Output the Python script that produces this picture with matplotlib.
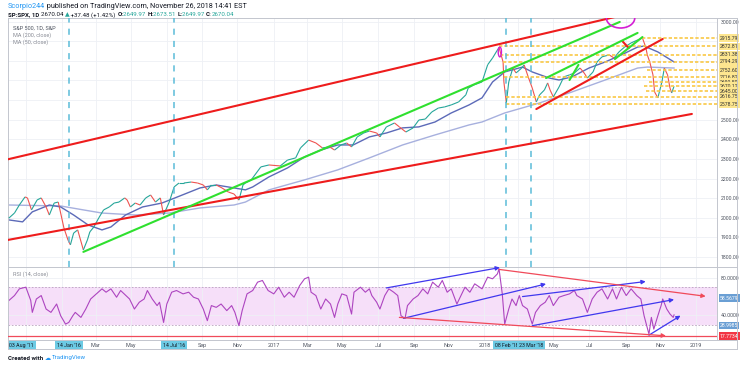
import numpy as np
import matplotlib
matplotlib.use("Agg")
import matplotlib.pyplot as plt
from matplotlib.collections import LineCollection
from matplotlib.lines import Line2D
from matplotlib.patches import Ellipse

plt.rcParams['font.family'] = ['Roboto', 'DejaVu Sans']

W, H = 751, 370
BASE = np.datetime64('2015-10-01')
END = np.datetime64('2019-02-07')

price_dates = ['2015-10-02', '2015-10-13', '2015-10-21', '2015-10-30', '2015-11-04', '2015-11-11',
               '2015-11-20', '2015-11-27', '2015-12-07', '2015-12-11', '2015-12-21', '2015-12-28',
               '2016-01-06', '2016-01-13', '2016-01-18', '2016-01-22', '2016-01-29', '2016-02-09',
               '2016-02-16', '2016-02-19', '2016-02-26', '2016-03-07', '2016-03-15', '2016-03-24',
               '2016-04-01', '2016-04-11', '2016-04-20', '2016-04-25', '2016-04-29', '2016-05-09',
               '2016-05-17', '2016-05-26', '2016-06-03', '2016-06-13', '2016-06-21', '2016-06-27',
               '2016-07-06', '2016-07-14', '2016-07-22', '2016-08-01', '2016-08-12', '2016-08-24',
               '2016-09-02', '2016-09-09', '2016-09-16', '2016-09-26', '2016-10-05', '2016-10-17',
               '2016-10-26', '2016-11-03', '2016-11-10', '2016-11-15', '2016-11-24', '2016-12-12',
               '2016-12-26', '2017-01-13', '2017-01-26', '2017-02-09', '2017-02-17', '2017-03-03',
               '2017-03-16', '2017-03-28', '2017-04-10', '2017-04-18', '2017-04-28', '2017-05-09',
               '2017-05-17', '2017-05-26', '2017-06-07', '2017-06-16', '2017-06-29', '2017-07-05',
               '2017-07-17', '2017-07-31', '2017-08-08', '2017-08-18', '2017-08-31', '2017-09-11',
               '2017-09-21', '2017-10-03', '2017-10-13', '2017-10-25', '2017-11-06', '2017-11-17',
               '2017-11-30', '2017-12-05', '2017-12-14', '2017-12-28', '2018-01-08', '2018-01-16',
               '2018-01-24', '2018-01-26', '2018-02-02', '2018-02-05', '2018-02-08', '2018-02-13',
               '2018-02-20', '2018-02-26', '2018-03-07', '2018-03-12', '2018-03-19', '2018-03-26',
               '2018-04-02', '2018-04-06', '2018-04-16', '2018-04-20', '2018-04-25', '2018-05-01',
               '2018-05-10', '2018-05-18', '2018-05-29', '2018-06-06', '2018-06-15', '2018-06-22',
               '2018-06-28', '2018-07-09', '2018-07-16', '2018-07-24', '2018-08-06', '2018-08-14',
               '2018-08-22', '2018-08-31', '2018-09-12', '2018-09-24', '2018-10-02', '2018-10-08',
               '2018-10-10', '2018-10-15', '2018-10-19', '2018-10-23', '2018-10-29', '2018-11-05',
               '2018-11-08', '2018-11-14', '2018-11-19', '2018-11-21', '2018-11-26']
price_close = [1998, 2024, 2065, 2106, 2101, 2040,
               2091, 2101, 2055, 2014, 2075, 2080,
               1948, 1887, 1862, 1922, 1938, 1836,
               1887, 1928, 1953, 1999, 2040, 2055,
               2075, 2080, 2101, 2091, 2055, 2075,
               2065, 2101, 2116, 2080, 2101, 2014,
               2080, 2157, 2177, 2177, 2182, 2177,
               2167, 2142, 2167, 2167, 2152, 2131,
               2121, 2090, 2167, 2177, 2192, 2259,
               2269, 2264, 2294, 2305, 2356, 2396,
               2381, 2356, 2361, 2345, 2371, 2381,
               2361, 2412, 2432, 2442, 2432, 2412,
               2463, 2483, 2463, 2437, 2458, 2498,
               2503, 2539, 2559, 2565, 2575, 2590,
               2626, 2661, 2677, 2692, 2780, 2814,
               2855, 2868, 2794, 2692, 2585, 2692,
               2763, 2738, 2763, 2779, 2718, 2661,
               2590, 2626, 2651, 2687, 2651, 2616,
               2666, 2718, 2728, 2738, 2763, 2738,
               2712, 2743, 2794, 2820, 2830, 2814,
               2845, 2870, 2891, 2906, 2916, 2870,
               2830, 2794, 2728, 2641, 2611, 2692,
               2763, 2728, 2661, 2636, 2670]

ma200_dates = ['2015-10-02', '2015-12-31', '2016-02-09', '2016-03-11', '2016-05-09', '2016-07-06',
               '2016-08-29', '2016-10-26', '2016-11-15', '2016-12-26', '2017-02-24', '2017-04-24',
               '2017-06-16', '2017-08-14', '2017-10-09', '2017-12-06', '2017-12-28', '2018-02-06',
               '2018-04-06', '2018-06-01', '2018-07-30', '2018-09-24', '2018-10-10', '2018-11-26']
ma200_vals = [2065, 2060, 2040, 2024, 2014, 2024,
              2050, 2065, 2080, 2142, 2193, 2244,
              2305, 2371, 2422, 2473, 2488, 2534,
              2585, 2641, 2702, 2763, 2768, 2763]

ma50_dates = ['2015-10-02', '2015-10-27', '2015-11-12', '2015-12-11', '2015-12-31', '2016-01-22',
              '2016-02-17', '2016-03-11', '2016-03-28', '2016-04-21', '2016-05-20', '2016-06-23',
              '2016-07-15', '2016-08-29', '2016-09-26', '2016-10-26', '2016-11-15', '2016-11-28',
              '2016-12-26', '2017-01-26', '2017-02-24', '2017-03-24', '2017-04-24', '2017-05-19',
              '2017-06-16', '2017-07-17', '2017-08-14', '2017-09-11', '2017-10-09', '2017-11-06',
              '2017-12-06', '2017-12-28', '2018-01-16', '2018-02-06', '2018-03-08', '2018-03-26',
              '2018-04-24', '2018-05-10', '2018-06-01', '2018-07-02', '2018-07-30', '2018-08-27',
              '2018-09-24', '2018-10-04', '2018-10-29', '2018-11-26']
ma50_vals = [1989, 1979, 2030, 2065, 2055, 2014,
             1963, 1938, 1953, 2014, 2055, 2075,
             2101, 2152, 2167, 2152, 2142, 2157,
             2208, 2254, 2310, 2345, 2371, 2371,
             2412, 2432, 2458, 2463, 2488, 2534,
             2575, 2611, 2692, 2743, 2768, 2743,
             2712, 2702, 2718, 2763, 2794, 2830,
             2870, 2875, 2845, 2794]

# ---- RSI (14, close) ----
rsi_dates = ['2015-10-02', '2015-10-13', '2015-10-21', '2015-11-02', '2015-11-10', '2015-11-12',
             '2015-11-19', '2015-11-27', '2015-12-07', '2015-12-15', '2015-12-24', '2015-12-31',
             '2016-01-08', '2016-01-14', '2016-01-21', '2016-01-26', '2016-02-04', '2016-02-12',
             '2016-02-22', '2016-03-02', '2016-03-11', '2016-03-18', '2016-03-28', '2016-04-06',
             '2016-04-13', '2016-04-28', '2016-05-06', '2016-05-16', '2016-05-24', '2016-05-30',
             '2016-06-07', '2016-06-15', '2016-06-20', '2016-06-27', '2016-07-01', '2016-07-11',
             '2016-07-19', '2016-07-29', '2016-08-09', '2016-08-17', '2016-08-25', '2016-09-02',
             '2016-09-09', '2016-09-16', '2016-09-26', '2016-10-04', '2016-10-13', '2016-10-21',
             '2016-10-27', '2016-11-03', '2016-11-09', '2016-11-17', '2016-11-28', '2016-12-06',
             '2016-12-14', '2016-12-23', '2017-01-03', '2017-01-11', '2017-01-20', '2017-01-30',
             '2017-02-07', '2017-02-16', '2017-02-24', '2017-03-03', '2017-03-08', '2017-03-16',
             '2017-03-24', '2017-04-03', '2017-04-11', '2017-04-18', '2017-04-24', '2017-05-01',
             '2017-05-09', '2017-05-17', '2017-05-22', '2017-06-01', '2017-06-09', '2017-06-16',
             '2017-06-21', '2017-06-29', '2017-07-05', '2017-07-13', '2017-07-20', '2017-07-28',
             '2017-08-04', '2017-08-10', '2017-08-17', '2017-08-22', '2017-08-31', '2017-09-08',
             '2017-09-18', '2017-09-26', '2017-10-04', '2017-10-13', '2017-10-20', '2017-10-30',
             '2017-11-06', '2017-11-15', '2017-11-24', '2017-11-29', '2017-12-07', '2017-12-15',
             '2017-12-28', '2018-01-08', '2018-01-16', '2018-01-24', '2018-01-26', '2018-02-01',
             '2018-02-06', '2018-02-13', '2018-02-19', '2018-02-26', '2018-03-02', '2018-03-08',
             '2018-03-16', '2018-03-26', '2018-03-30', '2018-04-09', '2018-04-17', '2018-04-24',
             '2018-05-01', '2018-05-10', '2018-05-18', '2018-05-29', '2018-06-06', '2018-06-11',
             '2018-06-20', '2018-06-28', '2018-07-06', '2018-07-16', '2018-07-24', '2018-08-02',
             '2018-08-10', '2018-08-17', '2018-08-27', '2018-09-04', '2018-09-12', '2018-09-21',
             '2018-09-28', '2018-10-04', '2018-10-12', '2018-10-17', '2018-10-22', '2018-10-29',
             '2018-11-02', '2018-11-06', '2018-11-13', '2018-11-19', '2018-11-23', '2018-11-26']
rsi_vals = [55.9, 61.3, 68.5, 70.3, 56.2, 43.2,
            57.6, 61.3, 46.8, 43.2, 52.2, 39.6,
            30.6, 32.4, 39.6, 43.2, 37.8, 46.8,
            57.6, 63.1, 68.5, 64.9, 68.5, 59.5,
            66.7, 57.6, 46.8, 54.1, 57.6, 66.7,
            57.6, 50.5, 54.1, 32.4, 52.2, 64.9,
            66.7, 63.1, 64.9, 59.5, 57.6, 46.8,
            34.3, 50.5, 48.6, 52.2, 45.1, 50.5,
            43.2, 28.9, 45.1, 63.1, 66.7, 75.7,
            77.5, 66.7, 63.1, 70.3, 59.5, 64.9,
            59.5, 72.1, 79.3, 81.1, 64.9, 61.3,
            46.8, 57.6, 52.2, 37.8, 52.2, 63.1,
            61.3, 41.4, 64.9, 70.3, 64.9, 68.5,
            61.3, 54.1, 46.8, 61.3, 68.5, 64.9,
            61.3, 39.6, 36.8, 50.5, 57.6, 61.3,
            68.5, 63.1, 75.7, 70.3, 77.5, 64.9,
            68.5, 52.2, 64.9, 70.3, 64.9, 73.9,
            68.5, 81.1, 79.3, 84.6, 90.0, 63.1,
            30.6, 46.8, 57.6, 50.5, 61.3, 50.5,
            46.8, 30.6, 43.2, 50.5, 54.1, 61.3,
            50.5, 59.5, 61.3, 63.1, 66.7, 61.3,
            57.6, 43.2, 57.6, 64.9, 68.5, 57.6,
            68.5, 57.6, 70.3, 61.3, 68.5, 61.3,
            57.6, 39.6, 19.8, 37.8, 25.2, 39.6,
            50.5, 57.6, 46.8, 41.4, 37.8, 40.5]

# ---- price axis and horizontal levels ----
price_ticks = [1800, 1900, 2000, 2100, 2200, 2300, 2400, 2500, 2600, 2700, 2800, 2900, 3000]
price_tick_labels = ['1800.00', '1900.00', '2000.00', '2100.00', '2200.00', '2300.00', '2400.00',
                     '2500.00', '', '', '', '', '3000.00']
levels = [2915.79, 2872.81, 2831.38, 2794.29, 2752.60, 2716.82, 2690.50, 2670.12, 2645.00, 2616.75, 2578.75]
level_starts = ['2018-10-02', '2018-01-26', '2018-01-29', '2018-02-02', '2018-10-10', '2018-02-05',
                '2018-10-12', '2018-10-04', '2018-10-08', '2018-02-08', '2018-02-08']

# ---- date axis ----
month_ticks = ['2016-03-01', '2016-05-02', '2016-09-01', '2016-11-01', '2017-01-03', '2017-03-01',
               '2017-05-01', '2017-07-03', '2017-09-01', '2017-11-01', '2018-01-02', '2018-05-01',
               '2018-07-02', '2018-09-04', '2018-11-01', '2019-01-02']
month_labels = ['Mar', 'May', 'Sep', 'Nov', '2017', 'Mar', 'May', 'Jul', 'Sep', 'Nov', '2018', 'May',
                'Jul', 'Sep', 'Nov', '2019']
grid_extra = ['2015-11-02', '2016-01-04', '2016-07-01', '2018-03-01']
marked_dates = ['2016-01-14', '2016-07-14', '2018-02-08', '2018-03-23']
marked_labels = ["14 Jan '16", "14 Jul '16", "08 Feb '18", "23 Mar '18"]

# ---- drawings ----
red_lines = [(('2015-10-01', 2298), ('2018-08-27', 3031)),
             (('2015-10-01', 1887), ('2018-12-26', 2529)),
             (('2018-04-02', 2554), ('2018-11-06', 2911)),
             (('2018-08-28', 2901), ('2018-09-07', 2865))]
green_lines = [(('2016-02-09', 1826), ('2018-08-23', 2998)),
               (('2018-04-18', 2712), ('2018-09-24', 2942)),
               (('2018-08-15', 2809), ('2018-10-02', 2921)),
               (('2018-05-29', 2702), ('2018-06-13', 2779))]
rsi_blue = [(('2017-07-17', 69.5), ('2018-01-29', 91.4)),
            (('2017-08-15', 36.8), ('2018-04-18', 73.8)),
            (('2018-03-08', 60.2), ('2018-10-08', 76.4)),
            (('2018-03-26', 28.9), ('2018-11-26', 57.0)),
            (('2018-10-12', 18.7), ('2018-12-06', 39.7))]
rsi_red = [(('2018-01-26', 89.4), ('2019-01-18', 60.5)),
           (('2017-08-08', 37.8), ('2018-11-12', 18.0))]
rsi_red_level = 17.7734
rsi_blue_boxes = [58.5679, 28.9985]


def bd(d):
    return np.busday_count(BASE, np.asarray(d, dtype='datetime64[D]'))


def rect(x0, y0, x1, y1):
    return [x0 / W, 1 - y1 / H, (x1 - x0) / W, (y1 - y0) / H]


fig = plt.figure(figsize=(W / 100, H / 100), dpi=100)
fig.patch.set_facecolor('white')
ax = fig.add_axes(rect(8, 18, 717, 267))
ax2 = fig.add_axes(rect(8, 267, 717, 340), sharex=ax)

frame = '#c3c6ce'
grid_c = '#eef0f5'
text_c = '#4c525e'

for a in (ax, ax2):
    for s in a.spines.values():
        s.set_color(frame)
        s.set_linewidth(0.7)
    a.set_axisbelow(True)
    a.yaxis.tick_right()
    a.tick_params(axis='both', which='both', length=0, labelsize=3.7, labelcolor=text_c, pad=2.5)

ax.set_xlim(0, bd(END))
ax.set_ylim(1749, 3018)
ax2.set_ylim(13.5, 92)

ax2.set_xticks(bd(month_ticks))
ax2.set_xticklabels(month_labels, fontsize=4)
ax2.set_xticks(bd(grid_extra), minor=True)
ax.tick_params(labelbottom=False)
ax.set_yticks(price_ticks)
ax.set_yticklabels(price_tick_labels)
ax2.set_yticks([40, 80])
ax2.set_yticklabels(['40.0000', '80.0000'])
ax.grid(True, which='both', color=grid_c, lw=0.6)
ax2.grid(True, which='both', color=grid_c, lw=0.6)

# moving averages
ax.plot(bd(ma200_dates), ma200_vals, color='#a7b0de', lw=1.0, zorder=2)
ax.plot(bd(ma50_dates), ma50_vals, color='#5c6ab8', lw=1.0, zorder=2)

# price, coloured by direction like candles
xs = bd(price_dates)
ys = np.array(price_close, dtype=float)
segs = [[(xs[i], ys[i]), (xs[i + 1], ys[i + 1])] for i in range(len(xs) - 1)]
cols = ['#26a69a' if ys[i + 1] >= ys[i] else '#ef5350' for i in range(len(xs) - 1)]
ax.add_collection(LineCollection(segs, colors=cols, linewidths=0.8, zorder=3))

# yellow levels
for lv, st in zip(levels, level_starts):
    ax.plot([bd(st), bd(END)], [lv, lv], color='#f9c846', lw=1.2, ls=(0, (2, 1.2)), zorder=3.5)
    ax.text(1.004, lv, f'{lv:.2f}', transform=ax.get_yaxis_transform(), fontsize=3.7,
            color='#333333', va='center', ha='left', clip_on=False,
            bbox=dict(boxstyle='square,pad=0.25', fc='#fde68f', ec='none'))

# cyan markers
for d in marked_dates:
    ax.axvline(bd(d), color='#5bbcd8', lw=1.1, ls=(0, (4, 4)), zorder=4)

for (d0, p0), (d1, p1) in red_lines:
    ax.plot([bd(d0), bd(d1)], [p0, p1], color='#ee1c1c', lw=1.5, zorder=4.5, solid_capstyle='round')
for (d0, p0), (d1, p1) in green_lines:
    ax.plot([bd(d0), bd(d1)], [p0, p1], color='#2fe02f', lw=1.5, zorder=4.5, solid_capstyle='round')

ax.add_patch(Ellipse((bd('2018-08-24'), 3018), 35, 102, fill=False, ec='#d41fd4', lw=1.2, zorder=5))
ax.add_patch(Ellipse((bd('2018-01-29'), 2845), 4, 50, fill=False, ec='#d41fd4', lw=1.0, zorder=5))

# legend text in main pane
ax.text(5 / 709, 1 - 10 / 249, 'S&P 500, 1D, S&P', transform=ax.transAxes, fontsize=4, color=text_c, va='center')
ax.text(5 / 709, 1 - 17 / 249, 'MA (200, close)', transform=ax.transAxes, fontsize=4, color='#8a8d96', va='center')
ax.text(5 / 709, 1 - 24 / 249, 'MA (50, close)', transform=ax.transAxes, fontsize=4, color='#8a8d96', va='center')

# RSI pane
ax2.axhspan(30, 70, color='#f6dff9', zorder=0.3, lw=0)
ax2.axhline(70, color='#b9a3be', lw=0.6, ls=(0, (2, 2)), zorder=1)
ax2.axhline(30, color='#b9a3be', lw=0.6, ls=(0, (2, 2)), zorder=1)
ax2.plot(bd(rsi_dates), rsi_vals, color='#ad45c0', lw=0.8, zorder=2)
ax2.axhline(rsi_red_level, color='#f04a5a', lw=0.9, zorder=3)
ax2.text(5 / 709, 1 - 7 / 73, 'RSI (14, close)', transform=ax2.transAxes, fontsize=4, color='#8a8d96', va='center')


def arrow(a, p0, p1, color):
    a.annotate('', xy=(bd(p1[0]), p1[1]), xytext=(bd(p0[0]), p0[1]),
               arrowprops=dict(arrowstyle='-|>', color=color, lw=0.9, shrinkA=0, shrinkB=0,
                               mutation_scale=6), annotation_clip=False, zorder=4)


for p0, p1 in rsi_blue:
    arrow(ax2, p0, p1, '#4038ee')
for p0, p1 in rsi_red:
    arrow(ax2, p0, p1, '#f04a5a')

for v in rsi_blue_boxes:
    ax2.text(1.004, v, f'{v:.4f}', transform=ax2.get_yaxis_transform(), fontsize=3.7, color='white',
             va='center', ha='left', clip_on=False,
             bbox=dict(boxstyle='square,pad=0.25', fc='#6a9fd4', ec='none'))
ax2.text(1.004, rsi_red_level, f'{rsi_red_level:.4f}', transform=ax2.get_yaxis_transform(), fontsize=3.7,
         color='white', va='center', ha='left', clip_on=False,
         bbox=dict(boxstyle='square,pad=0.25', fc='#f23645', ec='none'))

# boxed dates on the time axis
for d, lbl in zip(marked_dates, marked_labels):
    ax2.text(bd(d), -0.07, lbl, transform=ax2.get_xaxis_transform(), fontsize=3.8, color='#131722',
             ha='center', va='center', clip_on=False,
             bbox=dict(boxstyle='square,pad=0.35', fc='#6ccae4', ec='none'))
ax2.text(0.002, -0.07, "03 Aug '11", transform=ax2.transAxes, fontsize=3.8, color='#131722',
         ha='left', va='center', clip_on=False, bbox=dict(boxstyle='square,pad=0.35', fc='#6ccae4', ec='none'))

# outer frame pieces
def fline(x0, y0, x1, y1):
    fig.add_artist(Line2D([x0 / W, x1 / W], [1 - y0 / H, 1 - y1 / H], color=frame, lw=0.7,
                          transform=fig.transFigure))


fline(717, 18, 737, 18)
fline(737, 18, 737, 349)
fline(8, 349, 737, 349)
fline(8, 340, 8, 349)
fline(717, 340, 737, 340)
fline(717, 267, 737, 267)

# header and footer text
renderer = fig.canvas.get_renderer()


def runs(x_px, y_px, parts, size):
    x = x_px
    for txt, col, wt in parts:
        t = fig.text(x / W, 1 - y_px / H, txt, color=col, fontsize=size, fontweight=wt, va='center', ha='left')
        x = t.get_window_extent(renderer=renderer).x1


dark = '#131722'
green = '#26a69a'
runs(8, 7, [('Scorpio244', '#2196f3', 'normal'),
            (' published on TradingView.com, November 26, 2018 14:41 EST', dark, 'normal')], 5.2)
runs(8, 15, [('SP:SPX, 1D ', dark, 'bold'), ('2670.04 ', dark, 'normal'), ('\u25b2', green, 'normal'),
             (' +37.48 (+1.42%) ', dark, 'normal'), ('O:', dark, 'bold'), ('2649.97 ', green, 'normal'),
             ('H:', dark, 'bold'), ('2673.51 ', green, 'normal'), ('L:', dark, 'bold'),
             ('2649.97 ', green, 'normal'), ('C:', dark, 'bold'), ('2670.04', green, 'normal')], 4.4)
runs(8, 358, [('Created with ', dark, 'bold'), ('\u2601 ', '#2196f3', 'normal'),
              ('TradingView', '#2196f3', 'normal')], 4.4)

fig.savefig('out.png', dpi=100)
